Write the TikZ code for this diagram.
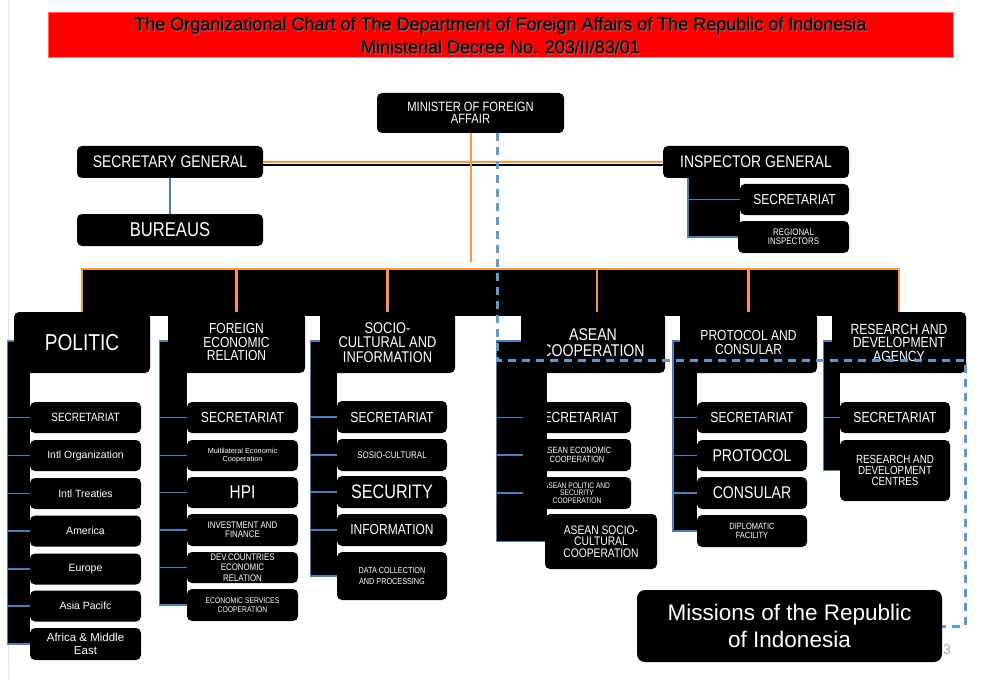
\documentclass[tikz,border=0pt]{standalone}
\usepackage{fontspec}
\setmainfont{Liberation Sans}
\newfontfamily\cnd[FakeStretch=0.83]{Liberation Sans}
\newcommand\tsz[2]{\fontsize{#1}{#2}\selectfont}
\definecolor{org}{HTML}{F79646}
\definecolor{dblue}{HTML}{5B9BD5}
\definecolor{sblue}{HTML}{4A7EBB}
\begin{document}
\begin{tikzpicture}[x=1pt,y=-1pt,
  box/.style={fill=black, rounded corners=5pt, text=white, align=center, inner sep=0pt},
  cf/.style 2 args={font={\cnd\tsz{#1}{#2}}},
  rf/.style 2 args={font={\tsz{#1}{#2}}},
  sz/.style 2 args={minimum width=#1pt, minimum height=#2pt},
  orangeline/.style={draw=org, line width=2.8pt},
  sline/.style={draw=sblue, line width=1.6pt},
  dline/.style={draw=dblue, line width=3pt, dash pattern=on 8pt off 6pt},
]
\fill[white] (0,0) rectangle (1003,679);
\useasboundingbox (0,0) rectangle (1003,679);
\draw[gray!20, line width=0.6pt] (8,0) -- (8,679);

% ---- title banner
\node[fill=red, sz={905}{45}, inner sep=0pt, draw={rgb,255:red,255;green,110;blue,110}, line width=0.6pt] (banner) at (500.5,34.5) {};
\node[text=black!60, align=center, rf={18}{23}] (tshadow) at (501.7,37.2)
  {The Organizational Chart of The Department of Foreign Affairs of The Republic of Indonesia\\Ministerial Decree No. 203/II/83/01};
\node[text=black, align=center, rf={18}{23}] (title) at (500.5,36)
  {The Organizational Chart of The Department of Foreign Affairs of The Republic of Indonesia\\Ministerial Decree No. 203/II/83/01};

% ---- top level
\node[box, sz={187}{40}, cf={13.5}{12.5}] (minister) at (470.5,113) {MINISTER OF FOREIGN\\AFFAIR};
\node[box, sz={186}{32}, cf={16.8}{16}] (secgen) at (170,162) {SECRETARY GENERAL};
\node[box, sz={186}{32}, cf={20}{20}] (bureaus) at (170,230) {BUREAUS};
\node[box, sz={186}{32}, cf={16.8}{16}] (ig) at (756,162) {INSPECTOR GENERAL};
\fill[black] (688,178) rectangle (740,237);
\node[box, sz={109}{31}, cf={14.5}{14}] (igsec) at (794.5,199.5) {SECRETARIAT};
\node[box, sz={111}{32}, cf={9.5}{9}] (reg) at (793.5,237) {REGIONAL\\INSPECTORS};

\draw[black, line width=1.4pt] ([yshift=-2.9pt]secgen.east) -- ([yshift=-2.9pt]ig.west);
\draw[orangeline] (secgen.east) -- (ig.west);
\draw[sline] (secgen.south) -- (bureaus.north);
\coordinate (igc) at (688,178);
\draw[sline] (igc) |- (igsec.west);
\draw[sline] (igc) |- (reg.west);
\coordinate (mend) at (471,262);
\draw[orangeline] ([xshift=0.5pt]minister.south) -- (mend);

% ---- band
\coordinate (bandtop) at (0,269);
\fill[black] (82,269) rectangle (898,316);

% ---- division heads
\node[box, sz={136}{61}, cf={23}{23}] (politic) at (82,342.5) {POLITIC};
\node[box, sz={137}{61}, cf={14.5}{13.5}] (fer) at (236.5,342.5) {FOREIGN\\ECONOMIC\\RELATION};
\node[box, sz={135}{61}, cf={15.5}{14.5}] (socio) at (387.5,342.5) {SOCIO-\\CULTURAL AND\\INFORMATION};
\node[box, sz={144}{61}, cf={17}{15.5}] (asean) at (593,342.5) {ASEAN\\COOPERATION};
\node[box, sz={137}{61}, cf={14.5}{13.5}] (protocol) at (748.5,342.5) {PROTOCOL AND\\CONSULAR};
\node[box, sz={134}{61}, cf={14.7}{13.5}] (research) at (899,342.5) {RESEARCH AND\\DEVELOPMENT\\AGENCY};

\draw[orangeline] (politic.north) -- (politic.north |- bandtop) -- (research.north |- bandtop) -- (research.north);
\foreach \h in {fer,socio,protocol}{\draw[orangeline] (\h.north) -- (\h.north |- bandtop);}
\draw[orangeline] ([xshift=4pt]asean.north) -- ([xshift=4pt]asean.north |- bandtop);

% ---- POLITIC children
\node[box, sz={111}{31}, cf={12}{12}] (p1) at (85.5,417.5) {SECRETARIAT};
\node[box, sz={111}{31}, rf={10.5}{12}] (p2) at (85.5,455.5) {Intl Organization};
\node[box, sz={111}{31}, rf={10.5}{12}] (p3) at (85.5,493.5) {Intl Treaties};
\node[box, sz={111}{31}, rf={10.5}{12}] (p4) at (85.5,531) {America};
\node[box, sz={111}{31}, rf={10.5}{12}] (p5) at (85.5,569) {Europe};
\node[box, sz={111}{31}, rf={10.5}{12}] (p6) at (85.5,606) {Asia Pacifc};
\node[box, sz={111}{32}, rf={11.5}{13}] (p7) at (85.5,644) {Africa \& Middle\\East};

% ---- FER children
\node[box, sz={111}{31}, cf={14.6}{14}] (f1) at (242.5,417.5) {SECRETARIAT};
\node[box, sz={111}{31}, rf={7.3}{7.5}] (f2) at (242.5,455.5) {Multilateral Economic\\Cooperation};
\node[box, sz={111}{31}, cf={18.5}{18}] (f3) at (242.5,492.5) {HPI};
\node[box, sz={111}{32}, cf={9.5}{9}] (f4) at (242.5,530) {INVESTMENT AND\\FINANCE};
\node[box, sz={111}{31}, cf={9.5}{10.5}] (f5) at (242.5,567.5) {DEV.COUNTRIES\\ECONOMIC\\RELATION};
\node[box, sz={111}{32}, cf={8.2}{9.2}] (f6) at (242.5,605) {ECONOMIC SERVICES\\COOPERATION};

% ---- SOCIO children
\node[box, sz={110}{32}, cf={14.6}{14}] (s1) at (392,417) {SECRETARIAT};
\node[box, sz={110}{32}, cf={9.6}{10}] (s2) at (392,455) {SOSIO-CULTURAL};
\node[box, sz={110}{32}, cf={19.5}{19}] (s3) at (392,492) {SECURITY};
\node[box, sz={110}{32}, cf={14.5}{14}] (s4) at (392,530) {INFORMATION};
\node[box, sz={110}{48}, cf={8.75}{10.6}] (s5) at (392,576) {DATA COLLECTION\\AND PROCESSING};

% ---- ASEAN children
\node[box, sz={108}{31}, cf={14.6}{14}] (a1) at (577,417.5) {SECRETARIAT};
\node[box, sz={108}{32}, cf={9}{8.6}] (a2) at (577,455) {ASEAN ECONOMIC\\COOPERATION};
\node[box, sz={108}{32}, cf={8}{7.6}] (a3) at (577,493) {ASEAN POLITIC AND\\SECURITY\\COOPERATION};
\node[box, sz={112}{55}, cf={12.4}{11.5}] (a4) at (601,541.5) {ASEAN SOCIO-\\CULTURAL\\COOPERATION};

% ---- PROTOCOL children
\node[box, sz={110}{31}, cf={14.6}{14}] (r1) at (752,417.5) {SECRETARIAT};
\node[box, sz={110}{31}, cf={17}{17}] (r2) at (752,455.5) {PROTOCOL};
\node[box, sz={110}{32}, cf={17}{17}] (r3) at (752,493) {CONSULAR};
\node[box, sz={110}{32}, cf={9}{8.6}] (r4) at (752,531) {DIPLOMATIC\\FACILITY};

% ---- RESEARCH children
\node[box, sz={110}{31}, cf={14.6}{14}] (d1) at (895,417.5) {SECRETARIAT};
\node[box, sz={110}{61}, cf={11.8}{10.9}] (d2) at (895,470.5) {RESEARCH AND\\DEVELOPMENT\\CENTRES};

% ---- columns with blue connectors
\coordinate (pc) at (7.5,341);
\fill[black] (pc) rectangle (30,644);
\draw[sline] (politic.west |- pc) -- (pc) |- (p7.west);
\foreach \c in {p1,p2,p3,p4,p5,p6}{\draw[sline] (pc |- \c.west) -- (\c.west);}

\coordinate (fc) at (159.5,341);
\fill[black] (fc) rectangle (187,605);
\draw[sline] (fer.west |- fc) -- (fc) |- (f6.west);
\foreach \c in {f1,f2,f3,f4,f5}{\draw[sline] (fc |- \c.west) -- (\c.west);}

\coordinate (sc) at (310.5,341);
\fill[black] (sc) rectangle (337,576);
\draw[sline] (socio.west |- sc) -- (sc) |- (s5.west);
\foreach \c in {s1,s2,s3,s4}{\draw[sline] (sc |- \c.west) -- (\c.west);}

\coordinate (ac) at (496.5,341);
\fill[black] (ac) rectangle (547,541.5);
\draw[sline] (asean.west |- ac) -- (ac) |- (a4.west);
\foreach \c in {a1,a2,a3}{\draw[sline] (ac |- \c.west) -- (\c.west);}

\coordinate (rc) at (673,341);
\fill[black] (rc) rectangle (697,531);
\draw[sline] (protocol.west |- rc) -- (rc) |- (r4.west);
\foreach \c in {r1,r2,r3}{\draw[sline] (rc |- \c.west) -- (\c.west);}

\coordinate (dc) at (823.5,341);
\fill[black] (dc) rectangle (840,470.5);
\draw[sline] (research.west |- dc) -- (dc) |- (d2.west);
\draw[sline] (dc |- d1.west) -- (d1.west);

% ---- missions
\node[box, sz={305}{72}, rf={22.5}{27}, rounded corners=8pt] (missions) at (789.5,626) {Missions of the Republic\\of Indonesia};
\node[text=black!35, rf={14}{14}, inner sep=0pt] (pg) at (947,650) {3};

% ---- dashed line
\coordinate (dturn) at (965,360);
\draw[dline] ([xshift=26.5pt]minister.south) |- (dturn) |- (missions.east);
\end{tikzpicture}
\end{document}
